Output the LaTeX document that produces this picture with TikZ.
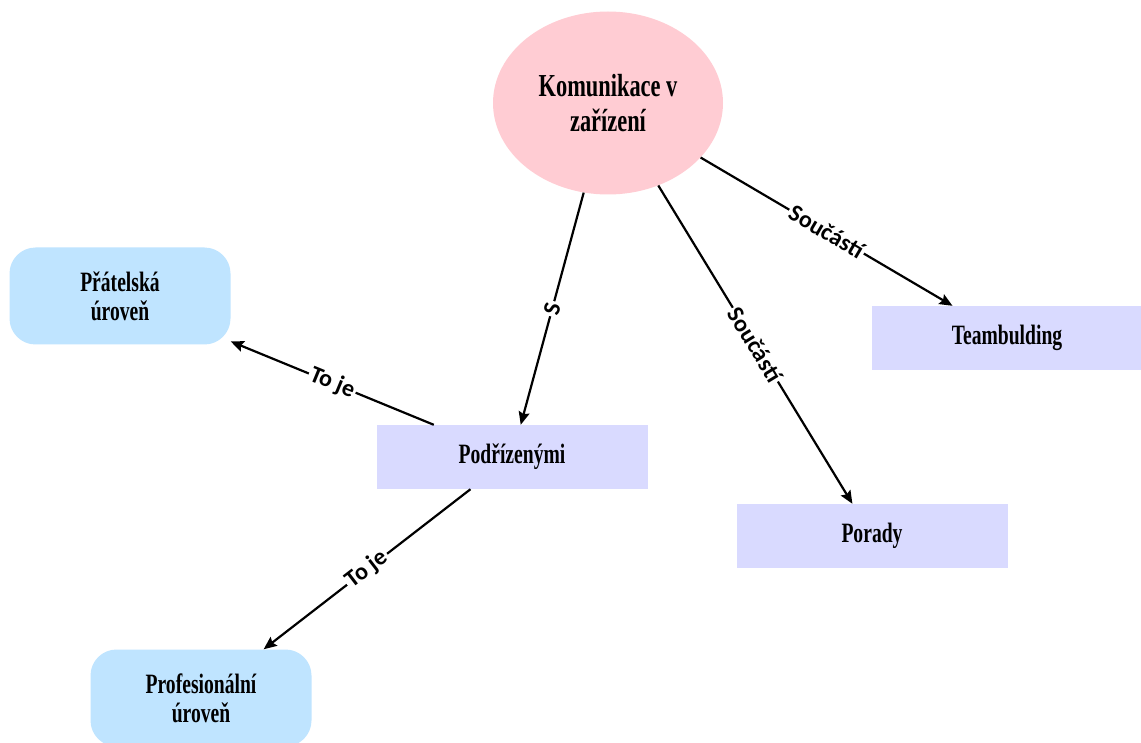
\documentclass[tikz,border=0pt]{standalone}
\usepackage{fontspec}
\usepackage{xcolor}
\usepackage{tikz}
\usetikzlibrary{shapes.geometric,arrows.meta}
\newfontfamily\conceptFont[FakeStretch=0.70]{Liberation Serif}
\newfontfamily\linkFont{Carlito}
\definecolor{topicPink}{HTML}{FFCCD3}
\definecolor{boxLavender}{HTML}{D9DAFF}
\definecolor{levelBlue}{HTML}{BFE4FF}
\tikzset{
	topic/.style = {ellipse, fill = topicPink, inner sep = 0pt, minimum width = 230pt, minimum height = 183pt, align = center, font = \conceptFont\bfseries\fontsize{32}{35}\selectfont},
	concept/.style = {rectangle, fill = boxLavender, inner sep = 0pt, minimum width = 271pt, minimum height = 64pt, align = center, font = \conceptFont\bfseries\fontsize{28}{30}\selectfont},
	level/.style = {rectangle, rounded corners = 26pt, fill = levelBlue, inner sep = 0pt, minimum width = 221pt, minimum height = 97pt, align = center, font = \conceptFont\bfseries\fontsize{28}{29}\selectfont},
	link/.style = {line width = 2.2pt, -{Stealth[length = 13pt, width = 11pt, inset = 2pt]}},
	linklabel/.style = {midway, sloped, fill = white, inner sep = 2pt, font = \linkFont\bfseries\fontsize{24}{26}\selectfont}
}

\begin{document}
\begin{tikzpicture}[x = 1pt, y = 1pt]%

		\useasboundingbox (0,0) rectangle (1141,-743);

		% centre
		\node[topic] (komunikace) at (608,-103) {Komunikace v\\zařízení};

		% boxes
		\node[concept] (teambulding) at (1007,-338) {Teambulding};
		\node[concept] (podrizenymi) at (512,-457) {Podřízenými};
		\node[concept] (porady) at (872,-536) {Porady};

		% levels
		\node[level] (pratelska) at (120,-296) {Přátelská\\úroveň};
		\node[level] (profesionalni) at (201,-698) {Profesionální\\úroveň};

		% links
		\draw[link] (komunikace) -- (podrizenymi) node[linklabel] {S};
		\draw[link] (komunikace) -- (porady) node[linklabel] {Součástí};
		\draw[link] (komunikace) -- (teambulding) node[linklabel] {Součástí};
		\draw[link] (podrizenymi) -- (pratelska) node[linklabel] {To je};
		\draw[link] (podrizenymi) -- (profesionalni) node[linklabel] {To je};

	\end{tikzpicture}
\end{document}
